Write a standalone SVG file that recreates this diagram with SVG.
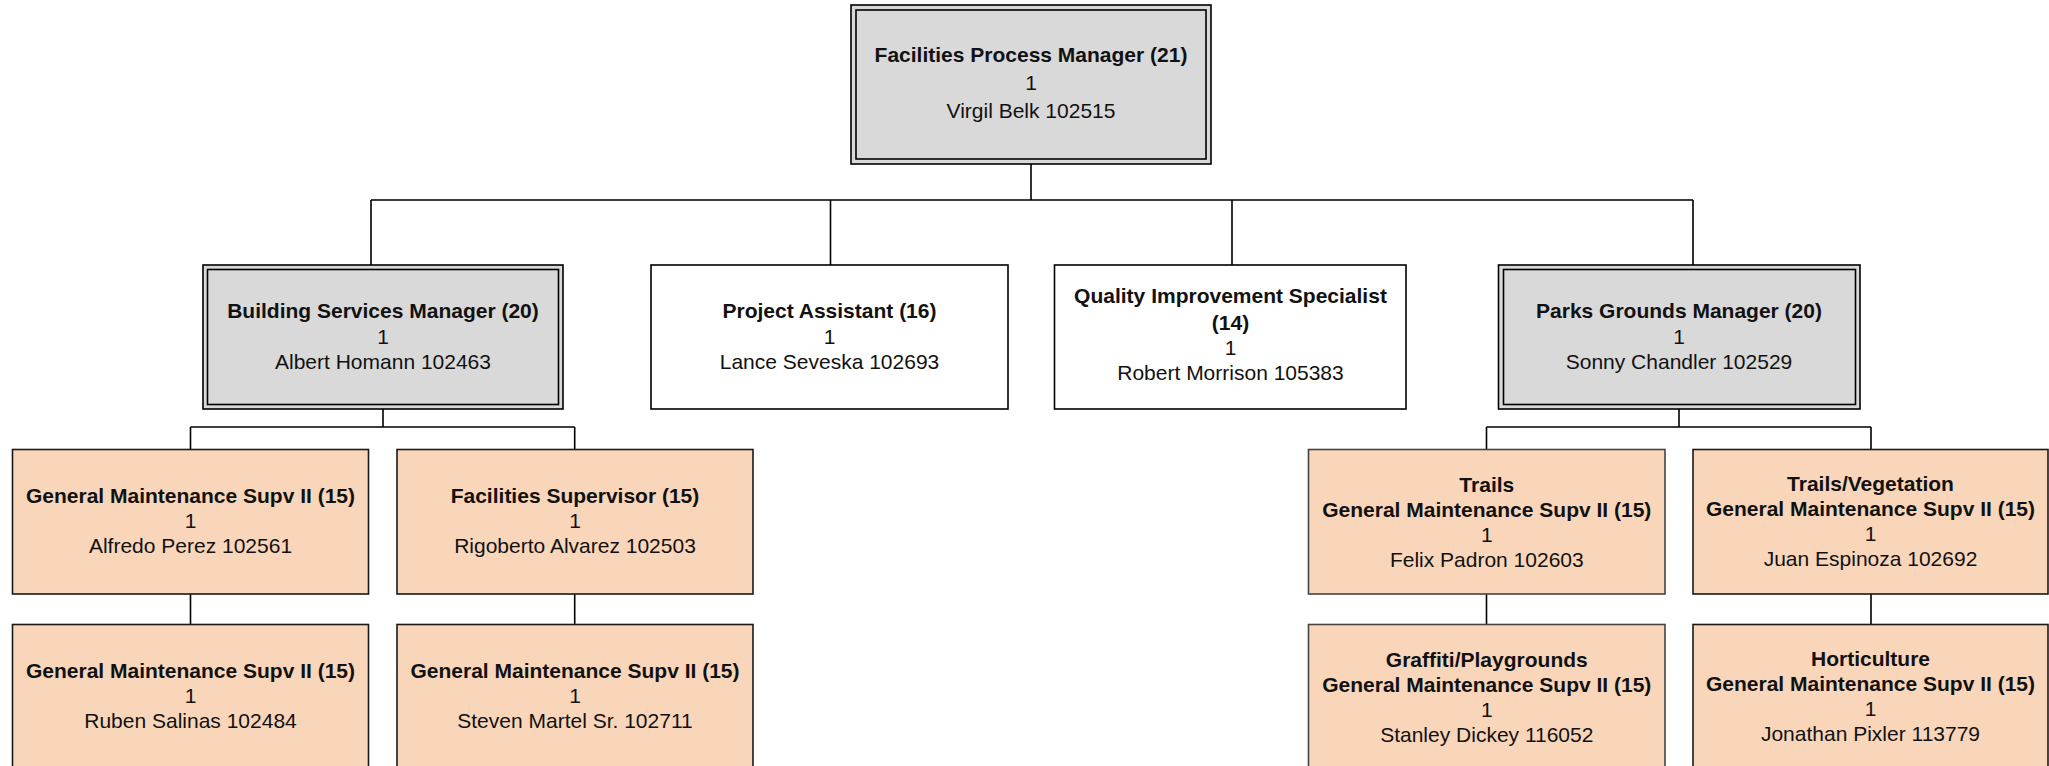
<svg xmlns="http://www.w3.org/2000/svg" width="2049" height="766" viewBox="0 0 2049 766">
<style>
.bg{fill:#ffffff}
.mgr{fill:#D9D9D9;stroke:#000;stroke-width:1.6}
.mgri{fill:none;stroke:#000;stroke-width:1.6}
.plain{fill:#ffffff;stroke:#000;stroke-width:1.6}
.sup{fill:#F9D6B9;stroke:#1a1a1a;stroke-width:1.6}
.supg{fill:#F9D6B9;stroke:#444;stroke-width:1.6}
.conn{fill:none;stroke:#000;stroke-width:1.6}
text{font-family:"Liberation Sans",Arial,sans-serif;font-size:21px;fill:#111;text-anchor:middle}
.b{font-weight:bold}
</style>
<rect class="bg" x="0" y="0" width="2049" height="766"/>
<g id="connectors">
<path class="conn" d="M1031 164V200M371 200H1693M371 200V265M830.5 200V265M1232 200V265M1693 200V265"/>
<path class="conn" d="M383 409V427M190.5 427H574.7M190.5 427V449.5M574.7 427V449.5M190.5 594V624.5M574.7 594V624.5"/>
<path class="conn" d="M1679 409V427M1486.5 427H1871M1486.5 427V449.5M1871 427V449.5M1486.5 594V624.5M1871 594V624.5"/>
</g>
<g id="n-facilities-process-manager">
<rect class="mgr" x="851" y="5" width="360" height="159"/>
<rect class="mgri" x="856" y="10" width="350" height="149"/>
<text x="1031" y="62" class="b">Facilities Process Manager (21)</text>
<text x="1031" y="90">1</text>
<text x="1031" y="118">Virgil Belk 102515</text>
</g>
<g id="n-building-services-manager">
<rect class="mgr" x="203" y="265" width="360" height="144"/>
<rect class="mgri" x="207.5" y="269.5" width="351" height="135"/>
<text x="383" y="318" class="b">Building Services Manager (20)</text>
<text x="383" y="344">1</text>
<text x="383" y="369">Albert Homann 102463</text>
</g>
<g id="n-project-assistant">
<rect class="plain" x="651" y="265" width="357" height="144"/>
<text x="829.5" y="318" class="b">Project Assistant (16)</text>
<text x="829.5" y="344">1</text>
<text x="829.5" y="369">Lance Seveska 102693</text>
</g>
<g id="n-quality-improvement-specialist">
<rect class="plain" x="1054.5" y="265" width="351.5" height="144"/>
<text x="1230.5" y="303" class="b">Quality Improvement Specialist</text>
<text x="1230.5" y="330" class="b">(14)</text>
<text x="1230.5" y="355">1</text>
<text x="1230.5" y="380">Robert Morrison 105383</text>
</g>
<g id="n-parks-grounds-manager">
<rect class="mgr" x="1498.5" y="265" width="361.5" height="144"/>
<rect class="mgri" x="1503.5" y="269.5" width="352" height="135"/>
<text x="1679" y="318" class="b">Parks Grounds Manager (20)</text>
<text x="1679" y="344">1</text>
<text x="1679" y="369">Sonny Chandler 102529</text>
</g>
<g id="n-alfredo-perez">
<rect class="sup" x="12.5" y="449.5" width="356" height="144.5"/>
<text x="190.5" y="503" class="b">General Maintenance Supv II (15)</text>
<text x="190.5" y="528">1</text>
<text x="190.5" y="553">Alfredo Perez 102561</text>
</g>
<g id="n-rigoberto-alvarez">
<rect class="sup" x="397" y="449.5" width="356" height="144.5"/>
<text x="575" y="503" class="b">Facilities Supervisor (15)</text>
<text x="575" y="528">1</text>
<text x="575" y="553">Rigoberto Alvarez 102503</text>
</g>
<g id="n-ruben-salinas">
<rect class="sup" x="12.5" y="624.5" width="356" height="144.5"/>
<text x="190.5" y="678" class="b">General Maintenance Supv II (15)</text>
<text x="190.5" y="703">1</text>
<text x="190.5" y="728">Ruben Salinas 102484</text>
</g>
<g id="n-steven-martel">
<rect class="sup" x="397" y="624.5" width="356" height="144.5"/>
<text x="575" y="678" class="b">General Maintenance Supv II (15)</text>
<text x="575" y="703">1</text>
<text x="575" y="728">Steven Martel Sr. 102711</text>
</g>
<g id="n-felix-padron">
<rect class="supg" x="1308.5" y="449.5" width="356.5" height="144.5"/>
<text x="1486.8" y="492" class="b">Trails</text>
<text x="1486.8" y="517" class="b">General Maintenance Supv II (15)</text>
<text x="1486.8" y="542">1</text>
<text x="1486.8" y="567">Felix Padron 102603</text>
</g>
<g id="n-juan-espinoza">
<rect class="sup" x="1693" y="449.5" width="355" height="144.5"/>
<text x="1870.5" y="491" class="b">Trails/Vegetation</text>
<text x="1870.5" y="516" class="b">General Maintenance Supv II (15)</text>
<text x="1870.5" y="541">1</text>
<text x="1870.5" y="566">Juan Espinoza 102692</text>
</g>
<g id="n-stanley-dickey">
<rect class="supg" x="1308.5" y="624.5" width="356.5" height="144.5"/>
<text x="1486.8" y="667" class="b">Graffiti/Playgrounds</text>
<text x="1486.8" y="692" class="b">General Maintenance Supv II (15)</text>
<text x="1486.8" y="717">1</text>
<text x="1486.8" y="742">Stanley Dickey 116052</text>
</g>
<g id="n-jonathan-pixler">
<rect class="sup" x="1693" y="624.5" width="355" height="144.5"/>
<text x="1870.5" y="666" class="b">Horticulture</text>
<text x="1870.5" y="691" class="b">General Maintenance Supv II (15)</text>
<text x="1870.5" y="716">1</text>
<text x="1870.5" y="741">Jonathan Pixler 113779</text>
</g>
</svg>
